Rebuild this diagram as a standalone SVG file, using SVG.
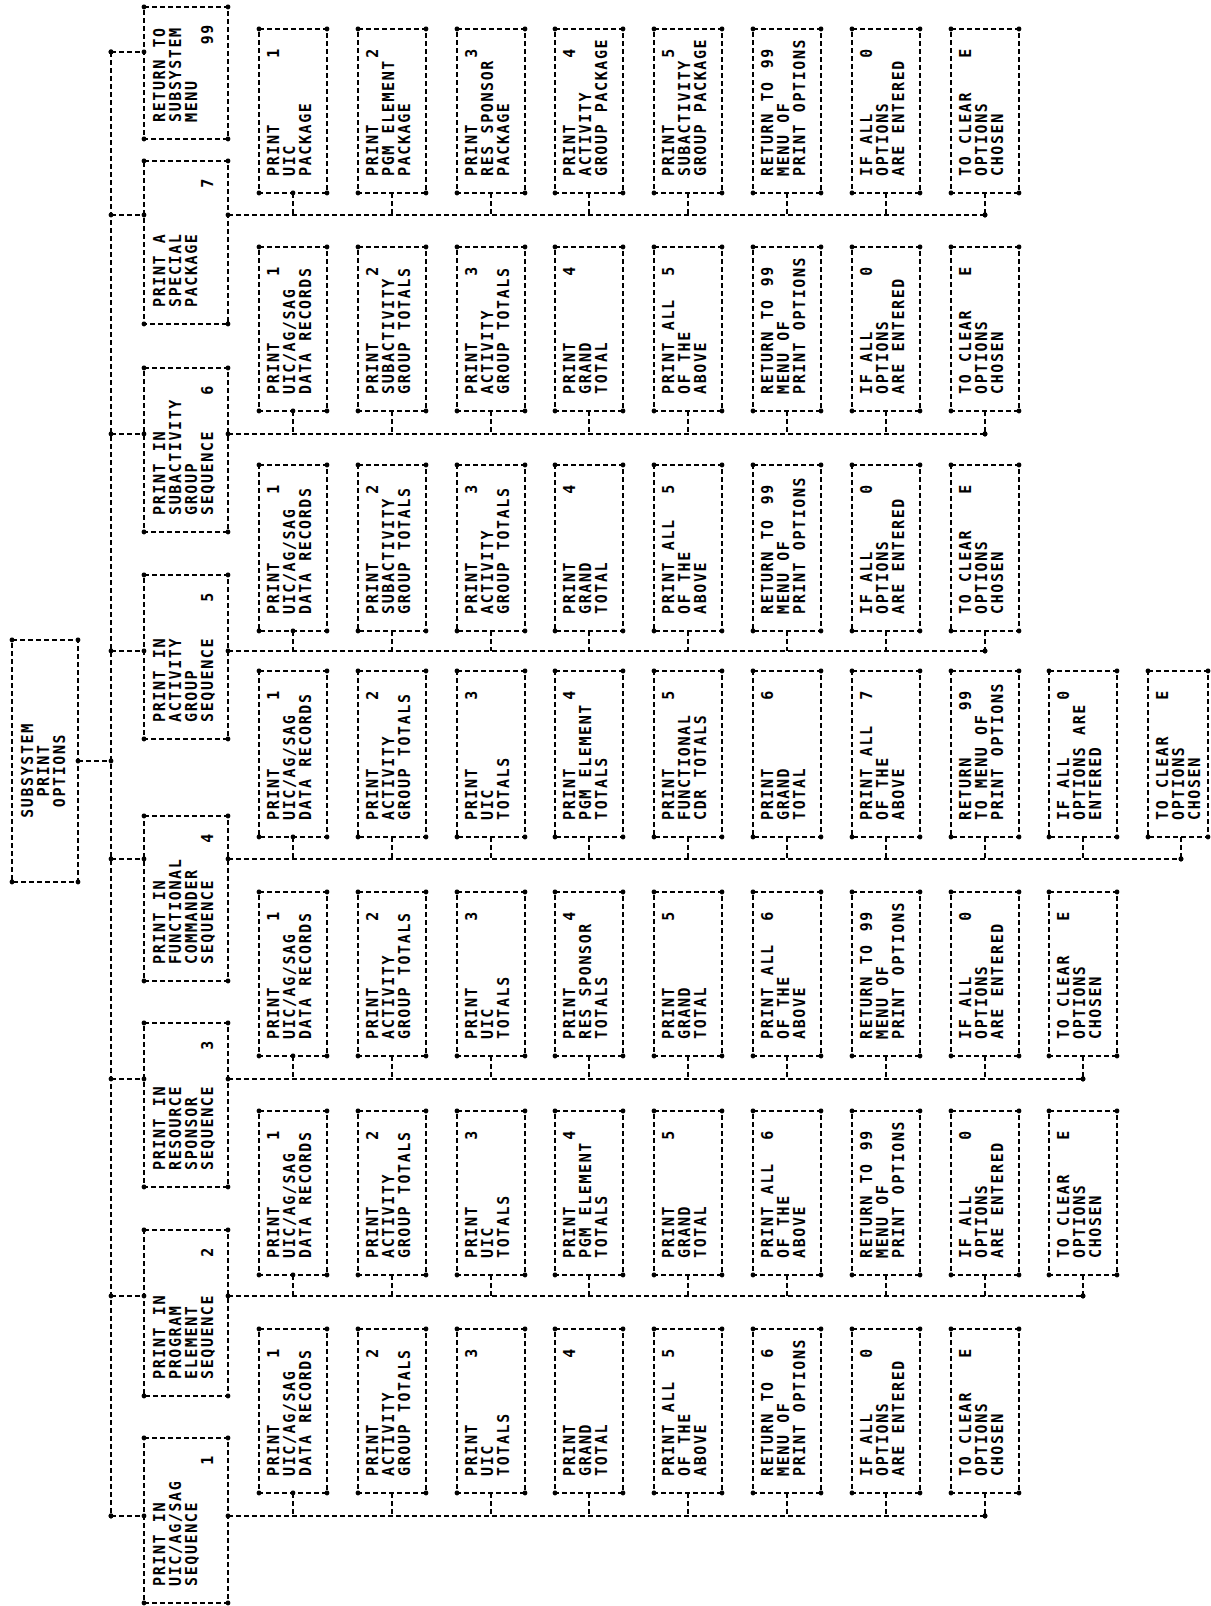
<svg xmlns="http://www.w3.org/2000/svg" width="1211" height="1606" viewBox="0 0 1211 1606">
<defs>
<marker id="d" markerUnits="userSpaceOnUse" markerWidth="7" markerHeight="7" refX="3.5" refY="3.5"><circle cx="3.5" cy="3.5" r="2.4" fill="#000"/></marker>
<style>
.bx{fill:none;stroke:#000;stroke-width:2;stroke-dasharray:5 3;marker-start:url(#d);marker-mid:url(#d)}
.ln{fill:none;stroke:#000;stroke-width:2;stroke-dasharray:5 3;marker-start:url(#d);marker-end:url(#d)}
text{font-family:"DejaVu Sans Mono","Liberation Mono",monospace;font-size:15px;font-weight:bold;letter-spacing:1.6px;fill:#000}
.n{text-anchor:end}
.m{text-anchor:middle}
</style>
</defs>
<rect width="1211" height="1606" fill="#fff"/>
<g id="connectors">
<path class="ln" d="M111 52V1516"/>
<path class="ln" d="M78 761H111"/>
<path class="ln" d="M111 52H144"/>
<path class="ln" d="M111 215H144"/>
<path class="ln" d="M111 434H144"/>
<path class="ln" d="M111 651H144"/>
<path class="ln" d="M111 859H144"/>
<path class="ln" d="M111 1079H144"/>
<path class="ln" d="M111 1296H144"/>
<path class="ln" d="M111 1516H144"/>
<path class="ln" d="M228 215H985"/>
<path class="ln" d="M228 434H985"/>
<path class="ln" d="M228 651H985"/>
<path class="ln" d="M228 859H1181"/>
<path class="ln" d="M228 1079H1083"/>
<path class="ln" d="M228 1296H1083"/>
<path class="ln" d="M228 1516H985"/>
<path class="ln" d="M293 193V215M392 193V215M491 193V215M589 193V215M688 193V215M787 193V215M886 193V215M985 193V215"/>
<path class="ln" d="M293 411V434M392 411V434M491 411V434M589 411V434M688 411V434M787 411V434M886 411V434M985 411V434"/>
<path class="ln" d="M293 631V651M392 631V651M491 631V651M589 631V651M688 631V651M787 631V651M886 631V651M985 631V651"/>
<path class="ln" d="M293 837V859M392 837V859M491 837V859M589 837V859M688 837V859M787 837V859M886 837V859M985 837V859M1083 837V859M1181 837V859"/>
<path class="ln" d="M293 1056V1079M392 1056V1079M491 1056V1079M589 1056V1079M688 1056V1079M787 1056V1079M886 1056V1079M985 1056V1079M1083 1056V1079"/>
<path class="ln" d="M293 1275V1296M392 1275V1296M491 1275V1296M589 1275V1296M688 1275V1296M787 1275V1296M886 1275V1296M985 1275V1296M1083 1275V1296"/>
<path class="ln" d="M293 1493V1516M392 1493V1516M491 1493V1516M589 1493V1516M688 1493V1516M787 1493V1516M886 1493V1516M985 1493V1516"/>
</g>
<g id="root"><path class="bx" d="M12 640H78V882H12Z"/><text class="m" transform="translate(12 770) rotate(-90)"><tspan x="0" y="21">SUBSYSTEM</tspan><tspan x="0" y="37">PRINT</tspan><tspan x="0" y="53">OPTIONS</tspan></text></g>
<g id="t99"><path class="bx" d="M144 7H228V139H144Z"/><text transform="translate(144 122) rotate(-90)"><tspan x="0" y="21">RETURN TO</tspan><tspan x="0" y="37">SUBSYSTEM</tspan><tspan x="0" y="53">MENU</tspan></text><text class="n" transform="translate(144 23) rotate(-90)" y="69">99</text></g>
<g id="t7"><path class="bx" d="M144 161H228V324H144Z"/><text transform="translate(144 307) rotate(-90)"><tspan x="0" y="21">PRINT A</tspan><tspan x="0" y="37">SPECIAL</tspan><tspan x="0" y="53">PACKAGE</tspan></text><text class="n" transform="translate(144 177) rotate(-90)" y="69">7</text></g>
<g id="t6"><path class="bx" d="M144 368H228V532H144Z"/><text transform="translate(144 515) rotate(-90)"><tspan x="0" y="21">PRINT IN</tspan><tspan x="0" y="37">SUBACTIVITY</tspan><tspan x="0" y="53">GROUP</tspan><tspan x="0" y="69">SEQUENCE</tspan></text><text class="n" transform="translate(144 384) rotate(-90)" y="69">6</text></g>
<g id="t5"><path class="bx" d="M144 575H228V739H144Z"/><text transform="translate(144 722) rotate(-90)"><tspan x="0" y="21">PRINT IN</tspan><tspan x="0" y="37">ACTIVITY</tspan><tspan x="0" y="53">GROUP</tspan><tspan x="0" y="69">SEQUENCE</tspan></text><text class="n" transform="translate(144 591) rotate(-90)" y="69">5</text></g>
<g id="t4"><path class="bx" d="M144 816H228V981H144Z"/><text transform="translate(144 964) rotate(-90)"><tspan x="0" y="21">PRINT IN</tspan><tspan x="0" y="37">FUNCTIONAL</tspan><tspan x="0" y="53">COMMANDER</tspan><tspan x="0" y="69">SEQUENCE</tspan></text><text class="n" transform="translate(144 832) rotate(-90)" y="69">4</text></g>
<g id="t3"><path class="bx" d="M144 1023H228V1187H144Z"/><text transform="translate(144 1170) rotate(-90)"><tspan x="0" y="21">PRINT IN</tspan><tspan x="0" y="37">RESOURCE</tspan><tspan x="0" y="53">SPONSOR</tspan><tspan x="0" y="69">SEQUENCE</tspan></text><text class="n" transform="translate(144 1039) rotate(-90)" y="69">3</text></g>
<g id="t2"><path class="bx" d="M144 1230H228V1396H144Z"/><text transform="translate(144 1379) rotate(-90)"><tspan x="0" y="21">PRINT IN</tspan><tspan x="0" y="37">PROGRAM</tspan><tspan x="0" y="53">ELEMENT</tspan><tspan x="0" y="69">SEQUENCE</tspan></text><text class="n" transform="translate(144 1246) rotate(-90)" y="69">2</text></g>
<g id="t1"><path class="bx" d="M144 1438H228V1603H144Z"/><text transform="translate(144 1586) rotate(-90)"><tspan x="0" y="21">PRINT IN</tspan><tspan x="0" y="37">UIC/AG/SAG</tspan><tspan x="0" y="53">SEQUENCE</tspan></text><text class="n" transform="translate(144 1454) rotate(-90)" y="69">1</text></g>

<g id="g7-1"><path class="bx" d="M259 29H327V193H259Z"/><text transform="translate(259 176) rotate(-90)"><tspan x="0" y="20">PRINT</tspan><tspan x="0" y="36">UIC</tspan><tspan x="0" y="52">PACKAGE</tspan></text><text class="n" transform="translate(259 47) rotate(-90)" y="20">1</text></g>
<g id="g7-2"><path class="bx" d="M358 29H426V193H358Z"/><text transform="translate(358 176) rotate(-90)"><tspan x="0" y="20">PRINT</tspan><tspan x="0" y="36">PGM ELEMENT</tspan><tspan x="0" y="52">PACKAGE</tspan></text><text class="n" transform="translate(358 47) rotate(-90)" y="20">2</text></g>
<g id="g7-3"><path class="bx" d="M457 29H525V193H457Z"/><text transform="translate(457 176) rotate(-90)"><tspan x="0" y="20">PRINT</tspan><tspan x="0" y="36">RES SPONSOR</tspan><tspan x="0" y="52">PACKAGE</tspan></text><text class="n" transform="translate(457 47) rotate(-90)" y="20">3</text></g>
<g id="g7-4"><path class="bx" d="M555 29H623V193H555Z"/><text transform="translate(555 176) rotate(-90)"><tspan x="0" y="20">PRINT</tspan><tspan x="0" y="36">ACTIVITY</tspan><tspan x="0" y="52">GROUP PACKAGE</tspan></text><text class="n" transform="translate(555 47) rotate(-90)" y="20">4</text></g>
<g id="g7-5"><path class="bx" d="M654 29H722V193H654Z"/><text transform="translate(654 176) rotate(-90)"><tspan x="0" y="20">PRINT</tspan><tspan x="0" y="36">SUBACTIVITY</tspan><tspan x="0" y="52">GROUP PACKAGE</tspan></text><text class="n" transform="translate(654 47) rotate(-90)" y="20">5</text></g>
<g id="g7-6"><path class="bx" d="M753 29H821V193H753Z"/><text transform="translate(753 176) rotate(-90)"><tspan x="0" y="20">RETURN TO</tspan><tspan x="0" y="36">MENU OF</tspan><tspan x="0" y="52">PRINT OPTIONS</tspan></text><text class="n" transform="translate(753 47) rotate(-90)" y="20">99</text></g>
<g id="g7-7"><path class="bx" d="M852 29H920V193H852Z"/><text transform="translate(852 176) rotate(-90)"><tspan x="0" y="20">IF ALL</tspan><tspan x="0" y="36">OPTIONS</tspan><tspan x="0" y="52">ARE ENTERED</tspan></text><text class="n" transform="translate(852 47) rotate(-90)" y="20">0</text></g>
<g id="g7-8"><path class="bx" d="M951 29H1019V193H951Z"/><text transform="translate(951 176) rotate(-90)"><tspan x="0" y="20">TO CLEAR</tspan><tspan x="0" y="36">OPTIONS</tspan><tspan x="0" y="52">CHOSEN</tspan></text><text class="n" transform="translate(951 47) rotate(-90)" y="20">E</text></g>

<g id="g6-1"><path class="bx" d="M259 247H327V411H259Z"/><text transform="translate(259 394) rotate(-90)"><tspan x="0" y="20">PRINT</tspan><tspan x="0" y="36">UIC/AG/SAG</tspan><tspan x="0" y="52">DATA RECORDS</tspan></text><text class="n" transform="translate(259 265) rotate(-90)" y="20">1</text></g>
<g id="g6-2"><path class="bx" d="M358 247H426V411H358Z"/><text transform="translate(358 394) rotate(-90)"><tspan x="0" y="20">PRINT</tspan><tspan x="0" y="36">SUBACTIVITY</tspan><tspan x="0" y="52">GROUP TOTALS</tspan></text><text class="n" transform="translate(358 265) rotate(-90)" y="20">2</text></g>
<g id="g6-3"><path class="bx" d="M457 247H525V411H457Z"/><text transform="translate(457 394) rotate(-90)"><tspan x="0" y="20">PRINT</tspan><tspan x="0" y="36">ACTIVITY</tspan><tspan x="0" y="52">GROUP TOTALS</tspan></text><text class="n" transform="translate(457 265) rotate(-90)" y="20">3</text></g>
<g id="g6-4"><path class="bx" d="M555 247H623V411H555Z"/><text transform="translate(555 394) rotate(-90)"><tspan x="0" y="20">PRINT</tspan><tspan x="0" y="36">GRAND</tspan><tspan x="0" y="52">TOTAL</tspan></text><text class="n" transform="translate(555 265) rotate(-90)" y="20">4</text></g>
<g id="g6-5"><path class="bx" d="M654 247H722V411H654Z"/><text transform="translate(654 394) rotate(-90)"><tspan x="0" y="20">PRINT ALL</tspan><tspan x="0" y="36">OF THE</tspan><tspan x="0" y="52">ABOVE</tspan></text><text class="n" transform="translate(654 265) rotate(-90)" y="20">5</text></g>
<g id="g6-6"><path class="bx" d="M753 247H821V411H753Z"/><text transform="translate(753 394) rotate(-90)"><tspan x="0" y="20">RETURN TO</tspan><tspan x="0" y="36">MENU OF</tspan><tspan x="0" y="52">PRINT OPTIONS</tspan></text><text class="n" transform="translate(753 265) rotate(-90)" y="20">99</text></g>
<g id="g6-7"><path class="bx" d="M852 247H920V411H852Z"/><text transform="translate(852 394) rotate(-90)"><tspan x="0" y="20">IF ALL</tspan><tspan x="0" y="36">OPTIONS</tspan><tspan x="0" y="52">ARE ENTERED</tspan></text><text class="n" transform="translate(852 265) rotate(-90)" y="20">0</text></g>
<g id="g6-8"><path class="bx" d="M951 247H1019V411H951Z"/><text transform="translate(951 394) rotate(-90)"><tspan x="0" y="20">TO CLEAR</tspan><tspan x="0" y="36">OPTIONS</tspan><tspan x="0" y="52">CHOSEN</tspan></text><text class="n" transform="translate(951 265) rotate(-90)" y="20">E</text></g>

<g id="g5-1"><path class="bx" d="M259 465H327V631H259Z"/><text transform="translate(259 614) rotate(-90)"><tspan x="0" y="20">PRINT</tspan><tspan x="0" y="36">UIC/AG/SAG</tspan><tspan x="0" y="52">DATA RECORDS</tspan></text><text class="n" transform="translate(259 483) rotate(-90)" y="20">1</text></g>
<g id="g5-2"><path class="bx" d="M358 465H426V631H358Z"/><text transform="translate(358 614) rotate(-90)"><tspan x="0" y="20">PRINT</tspan><tspan x="0" y="36">SUBACTIVITY</tspan><tspan x="0" y="52">GROUP TOTALS</tspan></text><text class="n" transform="translate(358 483) rotate(-90)" y="20">2</text></g>
<g id="g5-3"><path class="bx" d="M457 465H525V631H457Z"/><text transform="translate(457 614) rotate(-90)"><tspan x="0" y="20">PRINT</tspan><tspan x="0" y="36">ACTIVITY</tspan><tspan x="0" y="52">GROUP TOTALS</tspan></text><text class="n" transform="translate(457 483) rotate(-90)" y="20">3</text></g>
<g id="g5-4"><path class="bx" d="M555 465H623V631H555Z"/><text transform="translate(555 614) rotate(-90)"><tspan x="0" y="20">PRINT</tspan><tspan x="0" y="36">GRAND</tspan><tspan x="0" y="52">TOTAL</tspan></text><text class="n" transform="translate(555 483) rotate(-90)" y="20">4</text></g>
<g id="g5-5"><path class="bx" d="M654 465H722V631H654Z"/><text transform="translate(654 614) rotate(-90)"><tspan x="0" y="20">PRINT ALL</tspan><tspan x="0" y="36">OF THE</tspan><tspan x="0" y="52">ABOVE</tspan></text><text class="n" transform="translate(654 483) rotate(-90)" y="20">5</text></g>
<g id="g5-6"><path class="bx" d="M753 465H821V631H753Z"/><text transform="translate(753 614) rotate(-90)"><tspan x="0" y="20">RETURN TO</tspan><tspan x="0" y="36">MENU OF</tspan><tspan x="0" y="52">PRINT OPTIONS</tspan></text><text class="n" transform="translate(753 483) rotate(-90)" y="20">99</text></g>
<g id="g5-7"><path class="bx" d="M852 465H920V631H852Z"/><text transform="translate(852 614) rotate(-90)"><tspan x="0" y="20">IF ALL</tspan><tspan x="0" y="36">OPTIONS</tspan><tspan x="0" y="52">ARE ENTERED</tspan></text><text class="n" transform="translate(852 483) rotate(-90)" y="20">0</text></g>
<g id="g5-8"><path class="bx" d="M951 465H1019V631H951Z"/><text transform="translate(951 614) rotate(-90)"><tspan x="0" y="20">TO CLEAR</tspan><tspan x="0" y="36">OPTIONS</tspan><tspan x="0" y="52">CHOSEN</tspan></text><text class="n" transform="translate(951 483) rotate(-90)" y="20">E</text></g>

<g id="g4-1"><path class="bx" d="M259 671H327V837H259Z"/><text transform="translate(259 820) rotate(-90)"><tspan x="0" y="20">PRINT</tspan><tspan x="0" y="36">UIC/AG/SAG</tspan><tspan x="0" y="52">DATA RECORDS</tspan></text><text class="n" transform="translate(259 689) rotate(-90)" y="20">1</text></g>
<g id="g4-2"><path class="bx" d="M358 671H426V837H358Z"/><text transform="translate(358 820) rotate(-90)"><tspan x="0" y="20">PRINT</tspan><tspan x="0" y="36">ACTIVITY</tspan><tspan x="0" y="52">GROUP TOTALS</tspan></text><text class="n" transform="translate(358 689) rotate(-90)" y="20">2</text></g>
<g id="g4-3"><path class="bx" d="M457 671H525V837H457Z"/><text transform="translate(457 820) rotate(-90)"><tspan x="0" y="20">PRINT</tspan><tspan x="0" y="36">UIC</tspan><tspan x="0" y="52">TOTALS</tspan></text><text class="n" transform="translate(457 689) rotate(-90)" y="20">3</text></g>
<g id="g4-4"><path class="bx" d="M555 671H623V837H555Z"/><text transform="translate(555 820) rotate(-90)"><tspan x="0" y="20">PRINT</tspan><tspan x="0" y="36">PGM ELEMENT</tspan><tspan x="0" y="52">TOTALS</tspan></text><text class="n" transform="translate(555 689) rotate(-90)" y="20">4</text></g>
<g id="g4-5"><path class="bx" d="M654 671H722V837H654Z"/><text transform="translate(654 820) rotate(-90)"><tspan x="0" y="20">PRINT</tspan><tspan x="0" y="36">FUNCTIONAL</tspan><tspan x="0" y="52">CDR TOTALS</tspan></text><text class="n" transform="translate(654 689) rotate(-90)" y="20">5</text></g>
<g id="g4-6"><path class="bx" d="M753 671H821V837H753Z"/><text transform="translate(753 820) rotate(-90)"><tspan x="0" y="20">PRINT</tspan><tspan x="0" y="36">GRAND</tspan><tspan x="0" y="52">TOTAL</tspan></text><text class="n" transform="translate(753 689) rotate(-90)" y="20">6</text></g>
<g id="g4-7"><path class="bx" d="M852 671H920V837H852Z"/><text transform="translate(852 820) rotate(-90)"><tspan x="0" y="20">PRINT ALL</tspan><tspan x="0" y="36">OF THE</tspan><tspan x="0" y="52">ABOVE</tspan></text><text class="n" transform="translate(852 689) rotate(-90)" y="20">7</text></g>
<g id="g4-8"><path class="bx" d="M951 671H1019V837H951Z"/><text transform="translate(951 820) rotate(-90)"><tspan x="0" y="20">RETURN</tspan><tspan x="0" y="36">TO MENU OF</tspan><tspan x="0" y="52">PRINT OPTIONS</tspan></text><text class="n" transform="translate(951 689) rotate(-90)" y="20">99</text></g>
<g id="g4-9"><path class="bx" d="M1049 671H1117V837H1049Z"/><text transform="translate(1049 820) rotate(-90)"><tspan x="0" y="20">IF ALL</tspan><tspan x="0" y="36">OPTIONS ARE</tspan><tspan x="0" y="52">ENTERED</tspan></text><text class="n" transform="translate(1049 689) rotate(-90)" y="20">0</text></g>
<g id="g4-10"><path class="bx" d="M1148 671H1208V837H1148Z"/><text transform="translate(1148 820) rotate(-90)"><tspan x="0" y="20">TO CLEAR</tspan><tspan x="0" y="36">OPTIONS</tspan><tspan x="0" y="52">CHOSEN</tspan></text><text class="n" transform="translate(1148 689) rotate(-90)" y="20">E</text></g>

<g id="g3-1"><path class="bx" d="M259 892H327V1056H259Z"/><text transform="translate(259 1039) rotate(-90)"><tspan x="0" y="20">PRINT</tspan><tspan x="0" y="36">UIC/AG/SAG</tspan><tspan x="0" y="52">DATA RECORDS</tspan></text><text class="n" transform="translate(259 910) rotate(-90)" y="20">1</text></g>
<g id="g3-2"><path class="bx" d="M358 892H426V1056H358Z"/><text transform="translate(358 1039) rotate(-90)"><tspan x="0" y="20">PRINT</tspan><tspan x="0" y="36">ACTIVITY</tspan><tspan x="0" y="52">GROUP TOTALS</tspan></text><text class="n" transform="translate(358 910) rotate(-90)" y="20">2</text></g>
<g id="g3-3"><path class="bx" d="M457 892H525V1056H457Z"/><text transform="translate(457 1039) rotate(-90)"><tspan x="0" y="20">PRINT</tspan><tspan x="0" y="36">UIC</tspan><tspan x="0" y="52">TOTALS</tspan></text><text class="n" transform="translate(457 910) rotate(-90)" y="20">3</text></g>
<g id="g3-4"><path class="bx" d="M555 892H623V1056H555Z"/><text transform="translate(555 1039) rotate(-90)"><tspan x="0" y="20">PRINT</tspan><tspan x="0" y="36">RES SPONSOR</tspan><tspan x="0" y="52">TOTALS</tspan></text><text class="n" transform="translate(555 910) rotate(-90)" y="20">4</text></g>
<g id="g3-5"><path class="bx" d="M654 892H722V1056H654Z"/><text transform="translate(654 1039) rotate(-90)"><tspan x="0" y="20">PRINT</tspan><tspan x="0" y="36">GRAND</tspan><tspan x="0" y="52">TOTAL</tspan></text><text class="n" transform="translate(654 910) rotate(-90)" y="20">5</text></g>
<g id="g3-6"><path class="bx" d="M753 892H821V1056H753Z"/><text transform="translate(753 1039) rotate(-90)"><tspan x="0" y="20">PRINT ALL</tspan><tspan x="0" y="36">OF THE</tspan><tspan x="0" y="52">ABOVE</tspan></text><text class="n" transform="translate(753 910) rotate(-90)" y="20">6</text></g>
<g id="g3-7"><path class="bx" d="M852 892H920V1056H852Z"/><text transform="translate(852 1039) rotate(-90)"><tspan x="0" y="20">RETURN TO</tspan><tspan x="0" y="36">MENU OF</tspan><tspan x="0" y="52">PRINT OPTIONS</tspan></text><text class="n" transform="translate(852 910) rotate(-90)" y="20">99</text></g>
<g id="g3-8"><path class="bx" d="M951 892H1019V1056H951Z"/><text transform="translate(951 1039) rotate(-90)"><tspan x="0" y="20">IF ALL</tspan><tspan x="0" y="36">OPTIONS</tspan><tspan x="0" y="52">ARE ENTERED</tspan></text><text class="n" transform="translate(951 910) rotate(-90)" y="20">0</text></g>
<g id="g3-9"><path class="bx" d="M1049 892H1117V1056H1049Z"/><text transform="translate(1049 1039) rotate(-90)"><tspan x="0" y="20">TO CLEAR</tspan><tspan x="0" y="36">OPTIONS</tspan><tspan x="0" y="52">CHOSEN</tspan></text><text class="n" transform="translate(1049 910) rotate(-90)" y="20">E</text></g>

<g id="g2-1"><path class="bx" d="M259 1111H327V1275H259Z"/><text transform="translate(259 1258) rotate(-90)"><tspan x="0" y="20">PRINT</tspan><tspan x="0" y="36">UIC/AG/SAG</tspan><tspan x="0" y="52">DATA RECORDS</tspan></text><text class="n" transform="translate(259 1129) rotate(-90)" y="20">1</text></g>
<g id="g2-2"><path class="bx" d="M358 1111H426V1275H358Z"/><text transform="translate(358 1258) rotate(-90)"><tspan x="0" y="20">PRINT</tspan><tspan x="0" y="36">ACTIVITY</tspan><tspan x="0" y="52">GROUP TOTALS</tspan></text><text class="n" transform="translate(358 1129) rotate(-90)" y="20">2</text></g>
<g id="g2-3"><path class="bx" d="M457 1111H525V1275H457Z"/><text transform="translate(457 1258) rotate(-90)"><tspan x="0" y="20">PRINT</tspan><tspan x="0" y="36">UIC</tspan><tspan x="0" y="52">TOTALS</tspan></text><text class="n" transform="translate(457 1129) rotate(-90)" y="20">3</text></g>
<g id="g2-4"><path class="bx" d="M555 1111H623V1275H555Z"/><text transform="translate(555 1258) rotate(-90)"><tspan x="0" y="20">PRINT</tspan><tspan x="0" y="36">PGM ELEMENT</tspan><tspan x="0" y="52">TOTALS</tspan></text><text class="n" transform="translate(555 1129) rotate(-90)" y="20">4</text></g>
<g id="g2-5"><path class="bx" d="M654 1111H722V1275H654Z"/><text transform="translate(654 1258) rotate(-90)"><tspan x="0" y="20">PRINT</tspan><tspan x="0" y="36">GRAND</tspan><tspan x="0" y="52">TOTAL</tspan></text><text class="n" transform="translate(654 1129) rotate(-90)" y="20">5</text></g>
<g id="g2-6"><path class="bx" d="M753 1111H821V1275H753Z"/><text transform="translate(753 1258) rotate(-90)"><tspan x="0" y="20">PRINT ALL</tspan><tspan x="0" y="36">OF THE</tspan><tspan x="0" y="52">ABOVE</tspan></text><text class="n" transform="translate(753 1129) rotate(-90)" y="20">6</text></g>
<g id="g2-7"><path class="bx" d="M852 1111H920V1275H852Z"/><text transform="translate(852 1258) rotate(-90)"><tspan x="0" y="20">RETURN TO</tspan><tspan x="0" y="36">MENU OF</tspan><tspan x="0" y="52">PRINT OPTIONS</tspan></text><text class="n" transform="translate(852 1129) rotate(-90)" y="20">99</text></g>
<g id="g2-8"><path class="bx" d="M951 1111H1019V1275H951Z"/><text transform="translate(951 1258) rotate(-90)"><tspan x="0" y="20">IF ALL</tspan><tspan x="0" y="36">OPTIONS</tspan><tspan x="0" y="52">ARE ENTERED</tspan></text><text class="n" transform="translate(951 1129) rotate(-90)" y="20">0</text></g>
<g id="g2-9"><path class="bx" d="M1049 1111H1117V1275H1049Z"/><text transform="translate(1049 1258) rotate(-90)"><tspan x="0" y="20">TO CLEAR</tspan><tspan x="0" y="36">OPTIONS</tspan><tspan x="0" y="52">CHOSEN</tspan></text><text class="n" transform="translate(1049 1129) rotate(-90)" y="20">E</text></g>

<g id="g1-1"><path class="bx" d="M259 1329H327V1493H259Z"/><text transform="translate(259 1476) rotate(-90)"><tspan x="0" y="20">PRINT</tspan><tspan x="0" y="36">UIC/AG/SAG</tspan><tspan x="0" y="52">DATA RECORDS</tspan></text><text class="n" transform="translate(259 1347) rotate(-90)" y="20">1</text></g>
<g id="g1-2"><path class="bx" d="M358 1329H426V1493H358Z"/><text transform="translate(358 1476) rotate(-90)"><tspan x="0" y="20">PRINT</tspan><tspan x="0" y="36">ACTIVITY</tspan><tspan x="0" y="52">GROUP TOTALS</tspan></text><text class="n" transform="translate(358 1347) rotate(-90)" y="20">2</text></g>
<g id="g1-3"><path class="bx" d="M457 1329H525V1493H457Z"/><text transform="translate(457 1476) rotate(-90)"><tspan x="0" y="20">PRINT</tspan><tspan x="0" y="36">UIC</tspan><tspan x="0" y="52">TOTALS</tspan></text><text class="n" transform="translate(457 1347) rotate(-90)" y="20">3</text></g>
<g id="g1-4"><path class="bx" d="M555 1329H623V1493H555Z"/><text transform="translate(555 1476) rotate(-90)"><tspan x="0" y="20">PRINT</tspan><tspan x="0" y="36">GRAND</tspan><tspan x="0" y="52">TOTAL</tspan></text><text class="n" transform="translate(555 1347) rotate(-90)" y="20">4</text></g>
<g id="g1-5"><path class="bx" d="M654 1329H722V1493H654Z"/><text transform="translate(654 1476) rotate(-90)"><tspan x="0" y="20">PRINT ALL</tspan><tspan x="0" y="36">OF THE</tspan><tspan x="0" y="52">ABOVE</tspan></text><text class="n" transform="translate(654 1347) rotate(-90)" y="20">5</text></g>
<g id="g1-6"><path class="bx" d="M753 1329H821V1493H753Z"/><text transform="translate(753 1476) rotate(-90)"><tspan x="0" y="20">RETURN TO</tspan><tspan x="0" y="36">MENU OF</tspan><tspan x="0" y="52">PRINT OPTIONS</tspan></text><text class="n" transform="translate(753 1347) rotate(-90)" y="20">6</text></g>
<g id="g1-7"><path class="bx" d="M852 1329H920V1493H852Z"/><text transform="translate(852 1476) rotate(-90)"><tspan x="0" y="20">IF ALL</tspan><tspan x="0" y="36">OPTIONS</tspan><tspan x="0" y="52">ARE ENTERED</tspan></text><text class="n" transform="translate(852 1347) rotate(-90)" y="20">0</text></g>
<g id="g1-8"><path class="bx" d="M951 1329H1019V1493H951Z"/><text transform="translate(951 1476) rotate(-90)"><tspan x="0" y="20">TO CLEAR</tspan><tspan x="0" y="36">OPTIONS</tspan><tspan x="0" y="52">CHOSEN</tspan></text><text class="n" transform="translate(951 1347) rotate(-90)" y="20">E</text></g>
</svg>
